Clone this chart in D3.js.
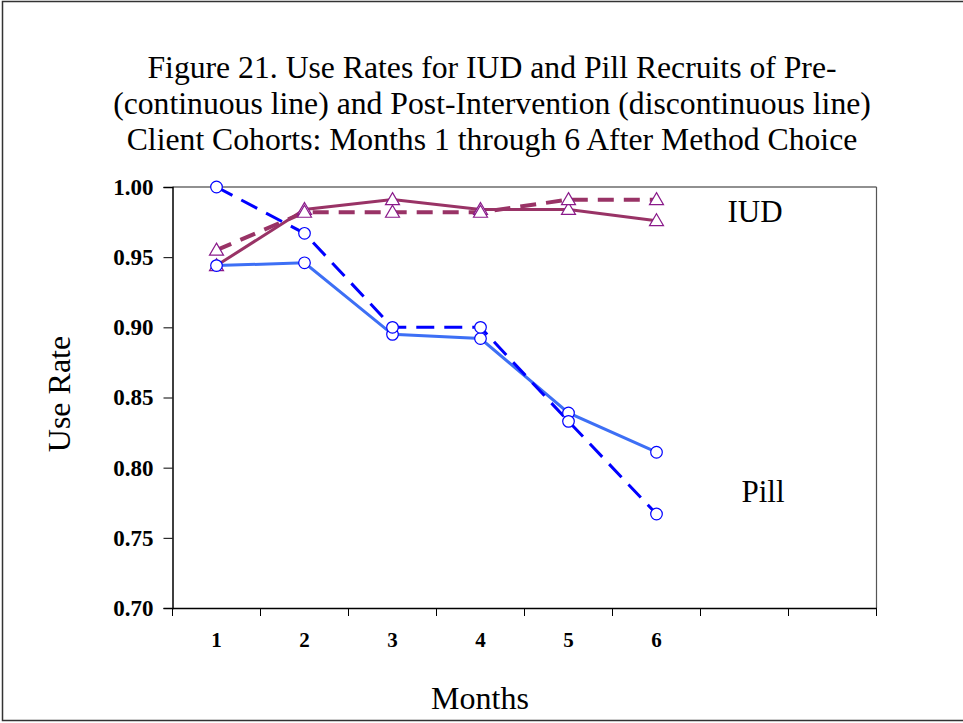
<!DOCTYPE html>
<html><head><meta charset="utf-8">
<script src="https://cdn.jsdelivr.net/npm/d3@7"></script>
<style>body{margin:0;background:#fff}svg{display:block}</style>
</head><body>
<script>
const months = ["1","2","3","4","5","6","",""];
const yTicks = [0.70,0.75,0.80,0.85,0.90,0.95,1.00];
const pillPre  = [0.944,0.946,0.895,0.892,0.839,0.811];
const pillPost = [1.000,0.967,0.900,0.900,0.833,0.767];
const iudPre   = [0.944,0.984,0.991,0.984,0.984,0.976];
const iudPost  = [0.955,0.982,0.982,0.982,0.991,0.991];
const titleLines = ["Figure 21. Use Rates for IUD and Pill Recruits of Pre-",
  "(continuous line) and Post-Intervention (discontinuous line)",
  "Client Cohorts: Months 1 through 6 After Method Choice"];

const W=963,H=723;
const svg=d3.select("body").append("svg").attr("width",W).attr("height",H);
svg.append("rect").attr("x",2.5).attr("y",1.5).attr("width",962).attr("height",719)
  .attr("fill","#fff").attr("stroke","#333").attr("stroke-width",1.5);

const serif="Liberation Serif, Times New Roman, serif";
const L=172.5,R=876.5,T=187,B=608;
const x=d3.scaleBand().domain(d3.range(8)).range([L,R]);
const y=d3.scaleLinear().domain([0.70,1.00]).range([B,T]);

svg.append("line").attr("x1",L).attr("x2",R).attr("y1",T).attr("y2",T).attr("stroke","#222").attr("stroke-width",1.2);
svg.append("line").attr("x1",R).attr("x2",R).attr("y1",T).attr("y2",B).attr("stroke","#555").attr("stroke-width",1.2);

const yAxis=d3.axisLeft(y).tickValues(yTicks).tickFormat(d3.format(".2f")).tickSize(9).tickPadding(10);
const gy=svg.append("g").attr("transform",`translate(${L},0)`).call(yAxis);
gy.attr("font-size",null).attr("font-family",null);
gy.select(".domain").attr("stroke","#000").attr("stroke-width",1.5);
gy.selectAll("line").attr("stroke","#000");
gy.selectAll("text").style("font-family",serif).style("font-weight","bold").style("font-size","23px").attr("fill","#000");

const xAxis=d3.axisBottom(x).tickFormat(i=>months[i]).tickSize(0).tickPadding(24);
const gx=svg.append("g").attr("transform",`translate(0,${B})`).call(xAxis);
gx.attr("font-size",null).attr("font-family",null);
gx.select(".domain").attr("stroke","#000").attr("stroke-width",1.5);
gx.selectAll("text").style("font-family",serif).style("font-weight","bold").style("font-size","21px").attr("fill","#000");
const bounds=d3.range(9).map(i=>L+i*x.step());
gx.selectAll(".bt").data(bounds).join("line").attr("x1",d=>d).attr("x2",d=>d).attr("y1",0).attr("y2",8).attr("stroke","#000").attr("stroke-width",1);

const cx=i=>x(i)+x.bandwidth()/2;
const line=d3.line().x((d,i)=>cx(i)).y(d=>y(d));

function series(data,color,width,dash){
  svg.append("path").datum(data).attr("d",line).attr("fill","none")
    .attr("stroke",color).attr("stroke-width",width).attr("stroke-dasharray",dash||null);
}
series(iudPre,"#993366",3);
series(iudPost,"#993366",4,"16,10");
series(pillPre,"#3d6ff5",3);
series(pillPost,"#0000ff",3,"18,10");

function tri(data){
  svg.append("g").selectAll("path").data(data).join("path")
    .attr("transform",(d,i)=>`translate(${cx(i)},${y(d)})`)
    .attr("d","M0,-7L7,5L-7,5Z").attr("fill","#fff").attr("stroke","#8a1a8a").attr("stroke-width",1.2);
}
function circ(data){
  svg.append("g").selectAll("circle").data(data).join("circle")
    .attr("cx",(d,i)=>cx(i)).attr("cy",d=>y(d)).attr("r",5.8)
    .attr("fill","#fff").attr("stroke","#0000ff").attr("stroke-width",1.2);
}
tri(iudPre);tri(iudPost);circ(pillPre);circ(pillPost);

const txt=(xx,yy,s,size)=>svg.append("text").attr("x",xx).attr("y",yy).attr("text-anchor","middle")
  .style("font-family",serif).style("font-size",size+"px").attr("fill","#000").text(s);

txt(755,222,"IUD",31);
txt(763,502,"Pill",31);
titleLines.forEach((t,i)=>txt(492,77.5+i*36,t,31.7));
txt(480,709,"Months",32);
svg.append("text").attr("transform","translate(70,394) rotate(-90)").attr("text-anchor","middle")
  .style("font-family",serif).style("font-size","32px").text("Use Rate");
</script>
</body></html>
